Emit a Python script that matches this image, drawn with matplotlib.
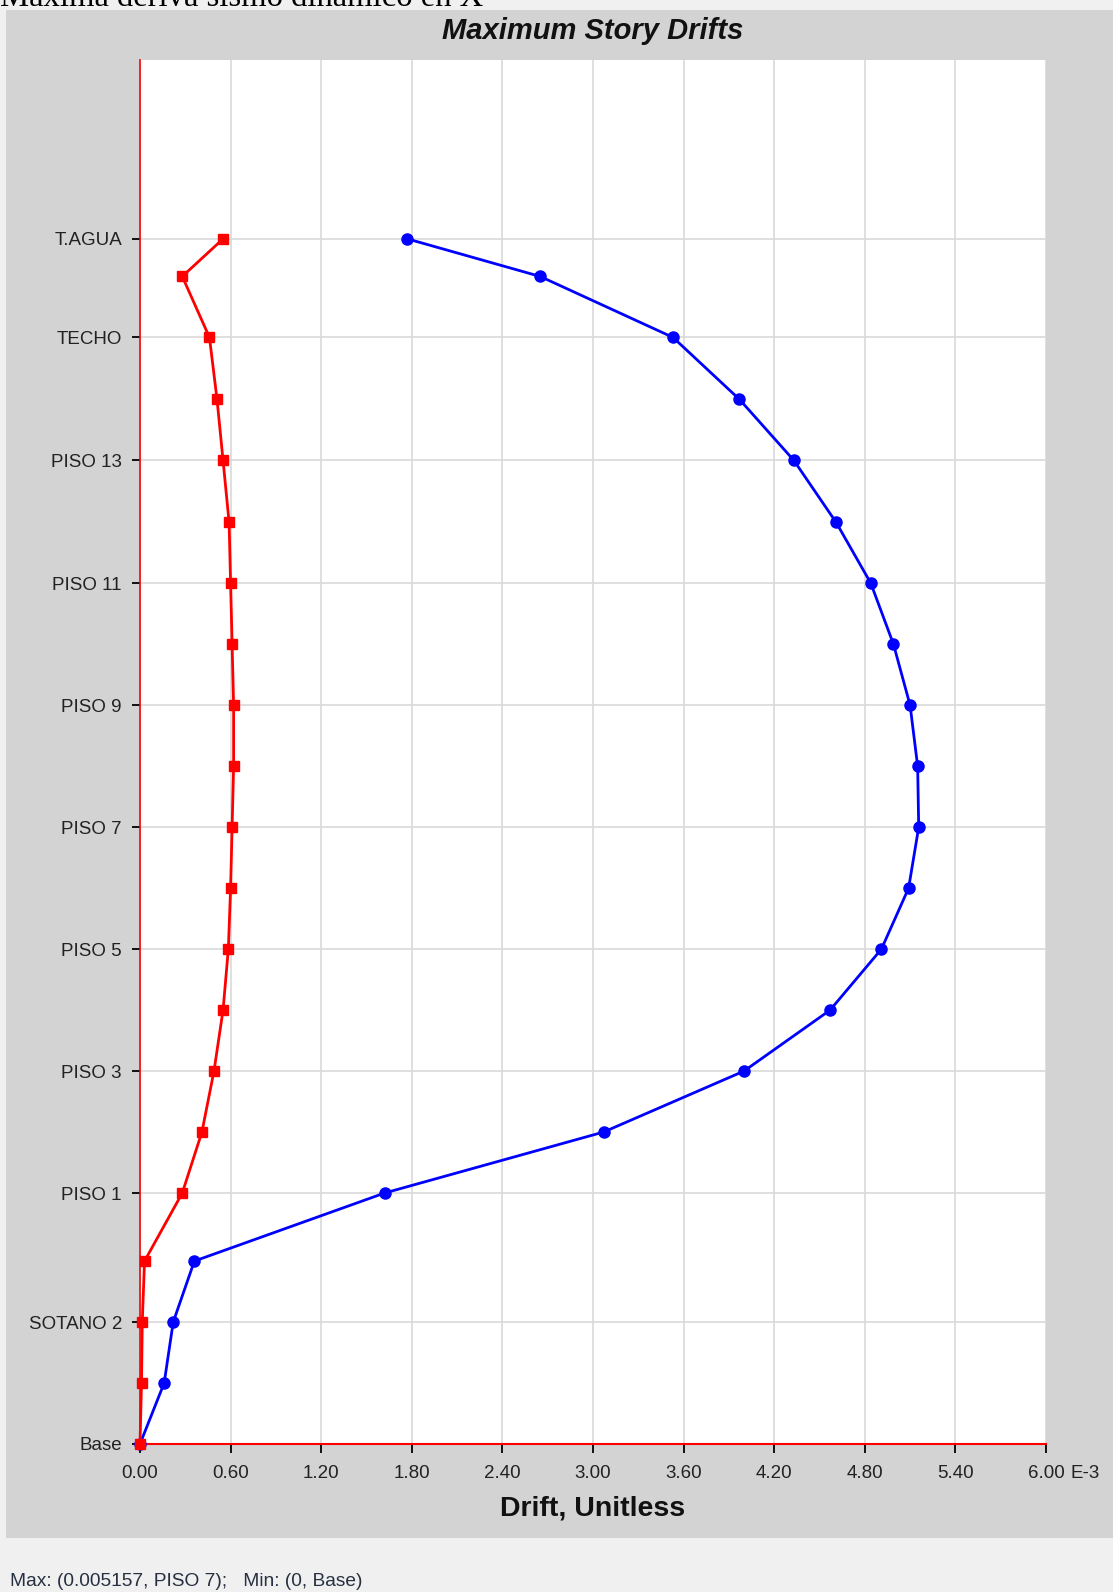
import matplotlib.pyplot as plt
from matplotlib.patches import Rectangle

# story names, bottom to top
stories = ['Base', 'SOTANO 3', 'SOTANO 2', 'SOTANO 1', 'PISO 1', 'PISO 2', 'PISO 3',
           'PISO 4', 'PISO 5', 'PISO 6', 'PISO 7', 'PISO 8', 'PISO 9', 'PISO 10',
           'PISO 11', 'PISO 12', 'PISO 13', 'PISO 14', 'TECHO', 'AZOTEA', 'T.AGUA']
# story elevation (m)
elev = [0, 3, 6, 9, 12.35, 15.35, 18.35, 21.35, 24.35, 27.35, 30.35, 33.35, 36.35,
        39.35, 42.35, 45.35, 48.4, 51.4, 54.45, 57.45, 59.3]

# drifts, E-3
drift_x = [0, 0.16, 0.22, 0.36, 1.62, 3.07, 4.00, 4.57, 4.91, 5.09, 5.157, 5.15,
           5.10, 4.99, 4.84, 4.61, 4.33, 3.97, 3.53, 2.65, 1.77]
drift_y = [0, 0.01, 0.015, 0.03, 0.28, 0.41, 0.49, 0.55, 0.585, 0.60, 0.61, 0.62,
           0.62, 0.61, 0.60, 0.59, 0.55, 0.51, 0.46, 0.28, 0.55]

ytick_names = ['Base', 'SOTANO 2', 'PISO 1', 'PISO 3', 'PISO 5', 'PISO 7', 'PISO 9',
               'PISO 11', 'PISO 13', 'TECHO', 'T.AGUA']
xticks = [0, 0.6, 1.2, 1.8, 2.4, 3.0, 3.6, 4.2, 4.8, 5.4, 6.0]

W, H = 1113, 1592
fig = plt.figure(figsize=(W / 100, H / 100), dpi=100)
fig.patch.set_facecolor('#f0f0f0')
plt.rcParams['font.family'] = ['Liberation Sans', 'DejaVu Sans']

# gray chart panel (behind the axes)
fig.patches.append(Rectangle((6 / W, 1 - 1538 / H), 1 - 6 / W, (1538 - 10) / H,
                             transform=fig.transFigure, facecolor='#d3d3d3',
                             edgecolor='none', zorder=-5))

ax = fig.add_axes([140 / W, 1 - 1444 / H, (1046 - 140) / W, (1444 - 60) / H])
ax.set_zorder(1)
ax.set_facecolor('white')

ax.plot(drift_x, elev, color='#0000ff', lw=2.0, marker='o', ms=8, clip_on=False, zorder=3)
ax.plot(drift_y, elev, color='#ff0000', lw=2.0, marker='s', ms=7.5, clip_on=False, zorder=4)

ax.set_xlim(0, 6.0)
ax.set_ylim(0, 68.1)

ax.set_xticks(xticks)
ax.set_xticklabels(['%.2f' % v for v in xticks])
ytick_pos = [elev[stories.index(s)] for s in ytick_names]
ax.set_yticks(ytick_pos)
ax.set_yticklabels(ytick_names)

ax.grid(True, color='#d9d9d9', lw=1.2, zorder=0)
ax.set_axisbelow(True)
for s in ['top', 'right']:
    ax.spines[s].set_visible(False)
ax.spines['left'].set_color('#ff0000')
ax.spines['bottom'].set_color('#ff0000')
ax.spines['left'].set_linewidth(1.2)
ax.spines['bottom'].set_linewidth(1.5)
xlen, xpad = 6.5, 8.5
ax.tick_params(axis='x', direction='out', length=xlen, width=1.3, color='black',
               labelsize=13.5, pad=xpad, labelcolor='#222222')
ax.tick_params(axis='y', direction='out', length=6, width=1.3, color='black',
               labelsize=13.5, pad=7, labelcolor='#222222')

ax.annotate('E-3', xy=(6.0, 0), xycoords=('data', 'axes fraction'),
            xytext=(17.5, -(xlen + xpad)), textcoords='offset points', ha='left', va='top',
            fontsize=13.5, color='#222222', annotation_clip=False)

fig.text(593 / W, 1 - 31 / H, 'Maximum Story Drifts', ha='center', va='center',
         fontsize=21, fontweight='bold', fontstyle='italic', color='#111111')
fig.text(593 / W, 1 - 1509 / H, 'Drift, Unitless', ha='center', va='center',
         fontsize=20.5, fontweight='bold', color='#111111')
fig.text(10 / W, 1 - 1581 / H, 'Max: (0.005157, PISO 7);   Min: (0, Base)',
         ha='left', va='center', fontsize=13.8, color='#263040')

# clipped caption at the very top
fig.text(0, 1 - 6 / H, 'Maxima deriva sismo dinamico en X', ha='left', va='baseline',
         fontsize=23.5, family='Liberation Serif', color='black')

fig.savefig('out.png', dpi=100, facecolor=fig.get_facecolor())
